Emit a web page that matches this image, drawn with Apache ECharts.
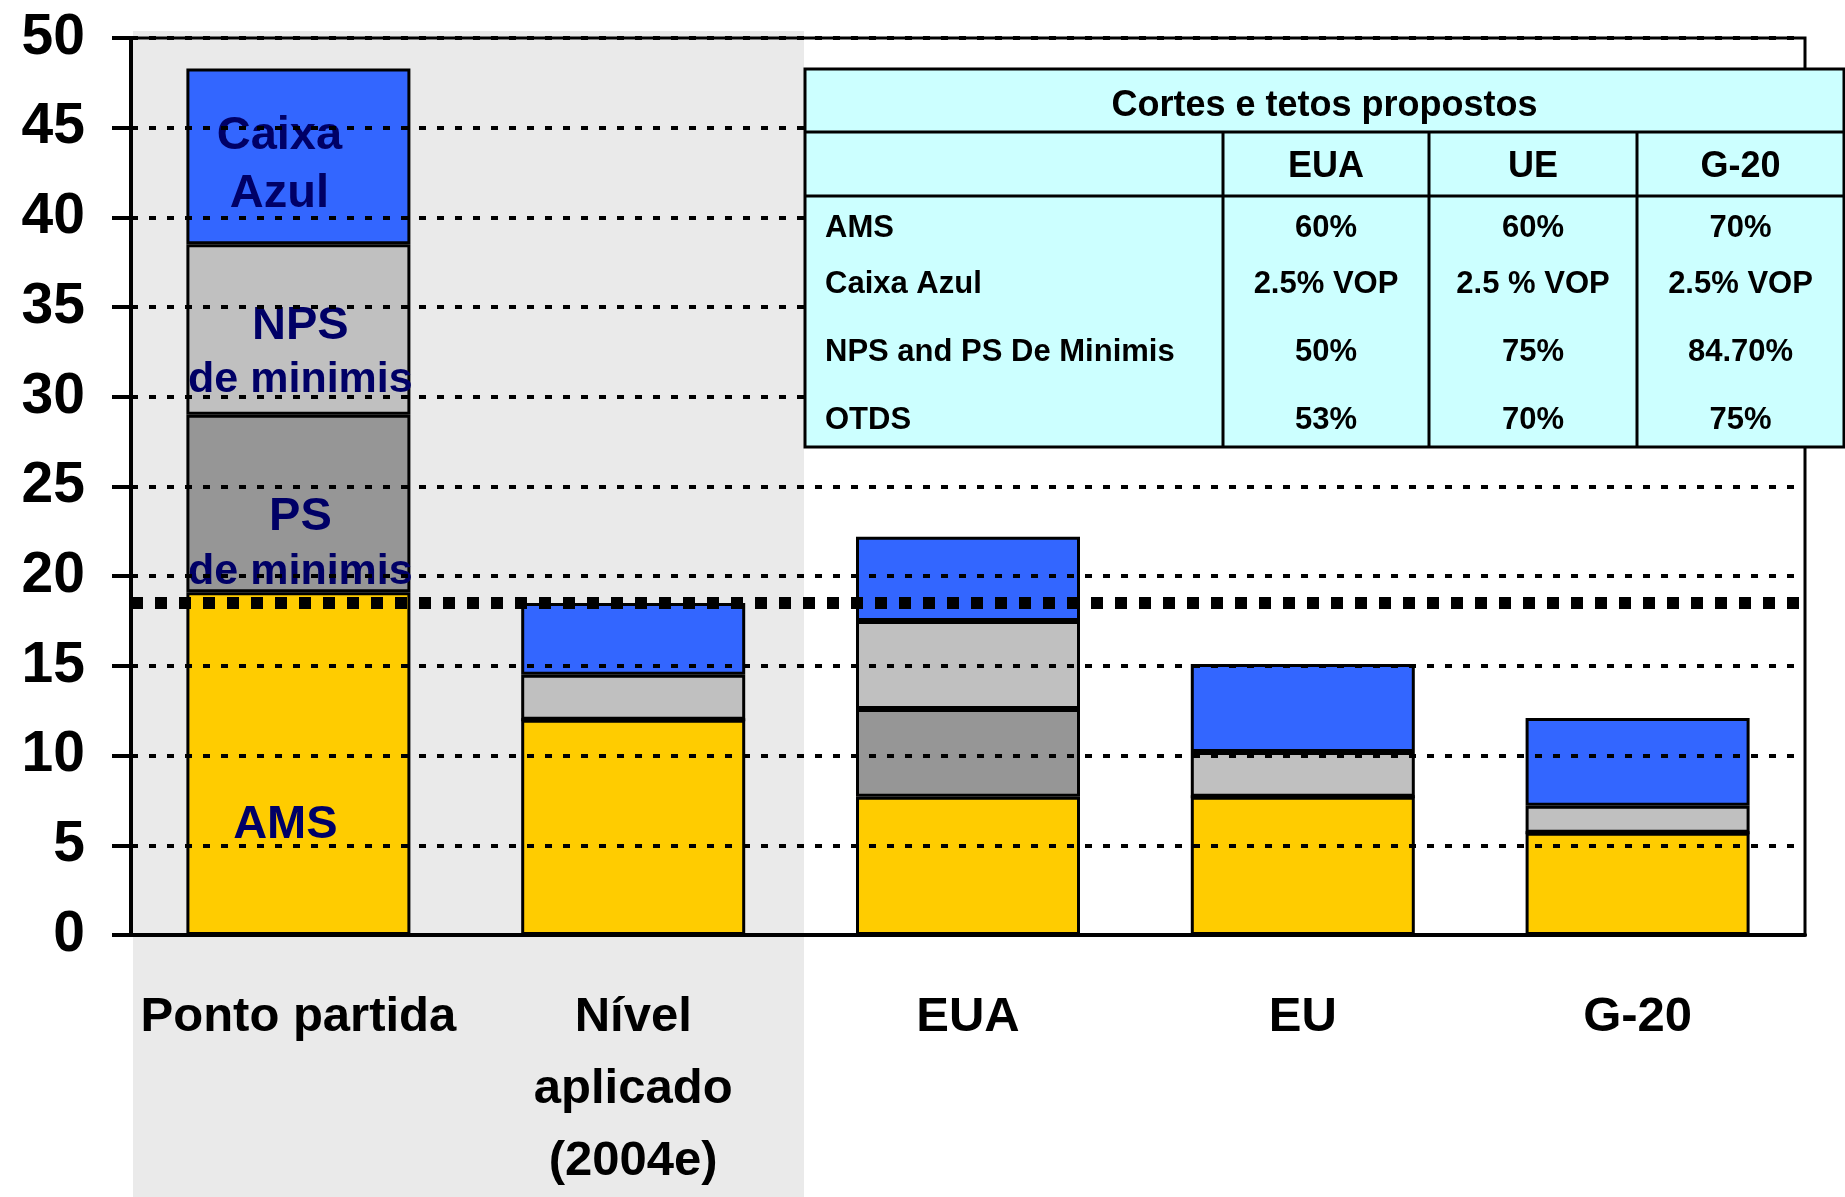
<!DOCTYPE html>
<html>
<head>
<meta charset="utf-8">
<script src="https://cdn.jsdelivr.net/npm/echarts@6/dist/echarts.min.js"></script>
<style>
html,body{margin:0;padding:0;background:#fff;}
#chart{width:1845px;height:1197px;}
</style>
</head>
<body>
<div id="chart"></div>
<script>
// ---- data ----
const categories = ['Ponto partida', 'Nível\naplicado\n(2004e)', 'EUA', 'EU', 'G-20'];
const amsValues   = [19.1, 12.0, 7.7, 7.7, 5.7];
const psValues    = [9.9, 0, 4.9, 0, 0];
const npsValues   = [9.5, 2.5, 4.9, 2.5, 1.5];
const caixaValues = [9.8, 4.0, 4.7, 4.9, 4.9];
const referenceLevel = 18.5;
const yMin = 0, yMax = 50, yStep = 5;

const segmentLabels = {
  ams: '{a|AMS}',
  ps: '{a|PS}\n{b|de minimis}',
  nps: '{a|NPS}\n{b|de minimis}',
  caixa: '{a|Caixa}\n{a|Azul}'
};

const tableTitle = 'Cortes e tetos propostos';
const tableColumns = ['EUA', 'UE', 'G-20'];
const tableRowLabels = ['AMS', 'Caixa Azul', 'NPS and PS De Minimis', 'OTDS'];
const tableEUA = ['60%', '2.5% VOP', '50%', '53%'];
const tableUE  = ['60%', '2.5 % VOP', '75%', '70%'];
const tableG20 = ['70%', '2.5% VOP', '84.70%', '75%'];

// ---- styles ----
const FONT = "'Liberation Sans', Arial, sans-serif";
const NAVY = '#000066';
const colors = { ams: '#FFCC00', ps: '#969696', nps: '#C0C0C0', caixa: '#3366FF' };

function labelFor(key, offset, lh) {
  return {
    show: true,
    position: 'inside',
    formatter: segmentLabels[key],
    offset: offset,
    rich: {
      a: { fontFamily: FONT, fontWeight: 'bold', fontSize: 47, color: NAVY, lineHeight: lh },
      b: { fontFamily: FONT, fontWeight: 'bold', fontSize: 43, color: NAVY, lineHeight: lh }
    }
  };
}

function makeData(values, key, offset, lh) {
  return values.map((v, i) => i === 0 ? { value: v, label: labelFor(key, offset, lh) } : v);
}

function barSeries(name, values, key, offset, lh) {
  return {
    name: name,
    type: 'bar',
    stack: 'total',
    barWidth: 224,
    data: makeData(values, key, offset, lh),
    itemStyle: { color: colors[key], borderColor: '#000', borderWidth: 3 },
    label: { show: false },
    emphasis: { disabled: true },
    z: 3
  };
}

const series = [
  barSeries('AMS', amsValues, 'ams', [-13, 61], 60),
  barSeries('PS de minimis', psValues, 'ps', [2, 41], 55),
  barSeries('NPS de minimis', npsValues, 'nps', [2, 24], 54),
  barSeries('Caixa Azul', caixaValues, 'caixa', [-19, 9], 58)
];
series[0].markLine = {
  silent: true,
  symbol: ['none', 'none'],
  label: { show: false },
  lineStyle: { color: '#000', width: 12, type: [12, 12] },
  data: [{ yAxis: referenceLevel }],
  z: 5
};

// ---- table graphic ----
const T = { x0: 805, x1: 1844, y0: 69, yTitle: 132, yHead: 196, y1: 447, cols: [1223, 1429, 1637] };
const tableEls = [];
tableEls.push({ type: 'rect', shape: { x: T.x0, y: T.y0, width: T.x1 - T.x0, height: T.y1 - T.y0 },
  style: { fill: '#CCFFFF', stroke: '#000', lineWidth: 3 }, z: 100 });
[T.yTitle, T.yHead].forEach(y => tableEls.push({ type: 'line', shape: { x1: T.x0, y1: y, x2: T.x1, y2: y },
  style: { stroke: '#000', lineWidth: 3 }, z: 101 }));
T.cols.forEach(x => tableEls.push({ type: 'line', shape: { x1: x, y1: T.yTitle, x2: x, y2: T.y1 },
  style: { stroke: '#000', lineWidth: 3 }, z: 101 }));
function txt(t, x, y, size, align) {
  return { type: 'text', x: x, y: y, z: 102,
    style: { text: t, fill: '#000', font: 'bold ' + size + 'px ' + FONT, textAlign: align || 'center', textVerticalAlign: 'middle' } };
}
tableEls.push(txt(tableTitle, (T.x0 + T.x1) / 2, 106, 36));
const colCenters = [(T.cols[0] + T.cols[1]) / 2, (T.cols[1] + T.cols[2]) / 2, (T.cols[2] + T.x1) / 2];
tableColumns.forEach((c, i) => tableEls.push(txt(c, colCenters[i], 167, 36)));
const rowY = [228, 284, 352, 420];
const tableCols = [tableEUA, tableUE, tableG20];
tableRowLabels.forEach((r, j) => {
  tableEls.push(txt(r, 825, rowY[j], 31, 'left'));
  tableCols.forEach((col, i) => tableEls.push(txt(col[j], colCenters[i], rowY[j], 31)));
});

const option = {
  animation: false,
  backgroundColor: '#fff',
  grid: { left: 131, right: 40, top: 38, bottom: 258, show: true, borderColor: '#000', borderWidth: 3, backgroundColor: 'transparent' },
  xAxis: {
    type: 'category',
    data: categories,
    axisLine: { lineStyle: { color: '#000', width: 4 } },
    axisTick: { show: false },
    axisLabel: { fontFamily: FONT, fontWeight: 'bold', fontSize: 49, color: '#000', lineHeight: 72, margin: 46, interval: 0 },
    z: 4
  },
  yAxis: {
    type: 'value',
    min: yMin, max: yMax, interval: yStep,
    axisLine: { show: true, lineStyle: { color: '#000', width: 4 } },
    axisTick: { show: true, length: 19, lineStyle: { color: '#000', width: 4 } },
    axisLabel: { fontFamily: FONT, fontWeight: 'bold', fontSize: 57, color: '#000', margin: 46 },
    splitLine: { show: true, lineStyle: { color: '#000', width: 4, type: [7, 11] } },
    z: 4
  },
  graphic: { elements: [
    { type: 'rect', shape: { x: 133, y: 31, width: 671, height: 1166 }, style: { fill: '#EAEAEA' }, z: -100, silent: true },
    { type: 'group', children: tableEls, z: 100 }
  ] },
  series: series
};

const chart = echarts.init(document.getElementById('chart'), null, { renderer: 'canvas' });
chart.setOption(option);
</script>
</body>
</html>
